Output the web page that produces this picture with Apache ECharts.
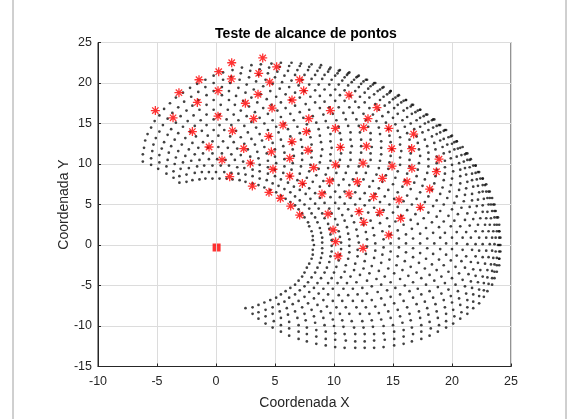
<!DOCTYPE html>
<html>
<head>
<meta charset="utf-8">
<script src="https://cdn.jsdelivr.net/npm/echarts@6/dist/echarts.min.js"></script>
<style>
  html, body { margin: 0; padding: 0; background: #fff; }
  #chart { width: 579px; height: 419px; }
</style>
</head>
<body>
<div id="chart"></div>
<script>
// Axis ticks
const xTicks = [-10, -5, 0, 5, 10, 15, 20, 25];
const yTicks = [-15, -10, -5, 0, 5, 10, 15, 20, 25];

// Reachable end-effector positions, one row per first-link angle (-4 deg ... 180 deg)
const workspaceX = [
  [2.5,3.1,3.6,4.2,4.8,5.5,6.2,7.0,7.7,8.5,9.3,10.1,10.9,11.8,12.6,13.4,14.2,15.1,15.9,16.6,17.4,18.1,18.8,19.5,20.1,20.7,21.3,21.8,22.3,22.7,23.0,23.4,23.6,23.8,24.0,24.0],
  [3.1,3.6,4.2,4.9,5.5,6.2,7.0,7.7,8.5,9.3,10.1,11.0,11.8,12.6,13.4,14.3,15.1,15.9,16.7,17.4,18.2,18.9,19.5,20.2,20.8,21.3,21.8,22.3,22.7,23.1,23.4,23.6,23.8,24.0,24.1,24.1],
  [3.6,4.2,4.8,5.5,6.2,7.0,7.7,8.5,9.3,10.1,10.9,11.8,12.6,13.4,14.2,15.1,15.9,16.6,17.4,18.1,18.8,19.5,20.1,20.7,21.3,21.8,22.3,22.7,23.0,23.4,23.6,23.8,24.0,24.0,24.1,24.0],
  [4.1,4.8,5.4,6.1,6.9,7.6,8.4,9.2,10.0,10.8,11.7,12.5,13.3,14.2,15.0,15.8,16.5,17.3,18.0,18.7,19.4,20.0,20.6,21.2,21.7,22.2,22.6,23.0,23.3,23.5,23.7,23.9,24.0,24.0,24.0,23.9],
  [4.6,5.3,6.0,6.7,7.5,8.3,9.1,9.9,10.7,11.5,12.4,13.2,14.0,14.8,15.6,16.4,17.2,17.9,18.6,19.3,19.9,20.5,21.1,21.6,22.0,22.4,22.8,23.1,23.4,23.6,23.7,23.8,23.8,23.8,23.7,23.6],
  [5.1,5.8,6.5,7.3,8.1,8.9,9.7,10.5,11.3,12.2,13.0,13.8,14.6,15.4,16.2,17.0,17.7,18.4,19.1,19.7,20.3,20.9,21.4,21.8,22.2,22.6,22.9,23.2,23.4,23.5,23.6,23.6,23.6,23.5,23.4,23.2],
  [5.5,6.2,7.0,7.8,8.6,9.4,10.2,11.0,11.9,12.7,13.5,14.3,15.1,15.9,16.7,17.4,18.1,18.8,19.4,20.0,20.6,21.1,21.6,22.0,22.3,22.6,22.9,23.1,23.2,23.3,23.4,23.3,23.2,23.1,22.9,22.6],
  [5.9,6.7,7.5,8.3,9.1,9.9,10.7,11.6,12.4,13.2,14.0,14.8,15.6,16.4,17.1,17.8,18.5,19.1,19.7,20.3,20.8,21.2,21.7,22.0,22.3,22.6,22.8,22.9,23.0,23.1,23.0,22.9,22.8,22.6,22.3,22.0],
  [6.3,7.1,7.9,8.7,9.5,10.4,11.2,12.0,12.8,13.7,14.5,15.2,16.0,16.7,17.4,18.1,18.7,19.3,19.9,20.4,20.9,21.3,21.6,22.0,22.2,22.4,22.6,22.6,22.7,22.6,22.6,22.4,22.2,22.0,21.6,21.3],
  [6.7,7.5,8.3,9.1,9.9,10.8,11.6,12.4,13.2,14.0,14.8,15.6,16.3,17.0,17.7,18.3,18.9,19.5,20.0,20.4,20.9,21.2,21.5,21.8,22.0,22.1,22.2,22.3,22.2,22.1,22.0,21.8,21.5,21.2,20.9,20.4],
  [7.0,7.8,8.6,9.5,10.3,11.1,11.9,12.8,13.6,14.3,15.1,15.8,16.5,17.2,17.8,18.4,19.0,19.5,20.0,20.4,20.7,21.1,21.3,21.5,21.7,21.7,21.8,21.7,21.7,21.5,21.3,21.1,20.7,20.4,20.0,19.5],
  [7.3,8.1,8.9,9.8,10.6,11.4,12.2,13.0,13.8,14.6,15.3,16.0,16.7,17.3,17.9,18.5,19.0,19.4,19.9,20.2,20.5,20.8,21.0,21.1,21.2,21.3,21.2,21.1,21.0,20.8,20.5,20.2,19.9,19.4,19.0,18.5],
  [7.5,8.4,9.2,10.0,10.9,11.7,12.5,13.2,14.0,14.7,15.4,16.1,16.7,17.3,17.9,18.4,18.9,19.3,19.7,20.0,20.2,20.4,20.6,20.7,20.7,20.7,20.6,20.4,20.2,20.0,19.7,19.3,18.9,18.4,17.9,17.3],
  [7.7,8.6,9.4,10.2,11.0,11.8,12.6,13.4,14.1,14.8,15.5,16.1,16.7,17.3,17.8,18.3,18.7,19.0,19.3,19.6,19.8,19.9,20.0,20.1,20.0,19.9,19.8,19.6,19.3,19.0,18.7,18.3,17.8,17.3,16.7,16.1],
  [7.9,8.8,9.6,10.4,11.2,12.0,12.7,13.5,14.2,14.8,15.5,16.1,16.6,17.1,17.6,18.0,18.4,18.7,19.0,19.2,19.3,19.4,19.4,19.4,19.3,19.2,19.0,18.7,18.4,18.0,17.6,17.1,16.6,16.1,15.5,14.8],
  [8.1,8.9,9.7,10.5,11.3,12.0,12.8,13.5,14.2,14.8,15.4,15.9,16.5,16.9,17.3,17.7,18.0,18.3,18.5,18.6,18.7,18.7,18.7,18.6,18.5,18.3,18.0,17.7,17.3,16.9,16.5,15.9,15.4,14.8,14.2,13.5],
  [8.2,9.0,9.8,10.6,11.3,12.1,12.8,13.4,14.1,14.7,15.2,15.7,16.2,16.6,17.0,17.3,17.5,17.7,17.9,18.0,18.0,18.0,17.9,17.7,17.5,17.3,17.0,16.6,16.2,15.7,15.2,14.7,14.1,13.4,12.8,12.1],
  [8.2,9.0,9.8,10.6,11.3,12.0,12.7,13.3,13.9,14.5,15.0,15.4,15.9,16.2,16.5,16.8,17.0,17.1,17.2,17.3,17.2,17.1,17.0,16.8,16.5,16.2,15.9,15.4,15.0,14.5,13.9,13.3,12.7,12.0,11.3],
  [8.3,9.0,9.8,10.5,11.2,11.9,12.5,13.1,13.7,14.2,14.7,15.1,15.4,15.8,16.0,16.2,16.4,16.4,16.5,16.4,16.4,16.2,16.0,15.8,15.4,15.1,14.7,14.2,13.7,13.1,12.5,11.9,11.2,10.5],
  [8.2,9.0,9.7,10.4,11.1,11.7,12.3,12.9,13.4,13.9,14.3,14.6,15.0,15.2,15.4,15.6,15.6,15.7,15.6,15.6,15.4,15.2,15.0,14.6,14.3,13.9,13.4,12.9,12.3,11.7,11.1,10.4,9.7],
  [8.2,8.9,9.6,10.3,10.9,11.5,12.1,12.6,13.0,13.5,13.8,14.1,14.4,14.6,14.7,14.8,14.9,14.8,14.7,14.6,14.4,14.1,13.8,13.5,13.0,12.6,12.1,11.5,10.9,10.3,9.6,8.9],
  [8.1,8.8,9.5,10.1,10.7,11.2,11.8,12.2,12.6,13.0,13.3,13.6,13.8,13.9,14.0,14.0,14.0,13.9,13.8,13.6,13.3,13.0,12.6,12.2,11.8,11.2,10.7,10.1,9.5,8.8,8.1],
  [7.9,8.6,9.2,9.8,10.4,10.9,11.4,11.8,12.1,12.5,12.7,12.9,13.1,13.1,13.2,13.1,13.1,12.9,12.7,12.5,12.1,11.8,11.4,10.9,10.4,9.8,9.2,8.6,7.9,7.2],
  [7.8,8.4,9.0,9.6,10.1,10.5,10.9,11.3,11.6,11.9,12.1,12.2,12.3,12.3,12.3,12.2,12.1,11.9,11.6,11.3,10.9,10.5,10.1,9.6,9.0,8.4,7.8,7.1,6.4],
  [7.5,8.1,8.7,9.2,9.7,10.1,10.4,10.8,11.0,11.2,11.4,11.4,11.5,11.4,11.4,11.2,11.0,10.8,10.4,10.1,9.7,9.2,8.7,8.1,7.5,6.9,6.2,5.5],
  [7.3,7.9,8.4,8.8,9.2,9.6,9.9,10.2,10.4,10.5,10.6,10.6,10.6,10.5,10.4,10.2,9.9,9.6,9.2,8.8,8.4,7.9,7.3,6.7,6.1,5.4,4.7],
  [7.0,7.5,8.0,8.4,8.8,9.1,9.3,9.5,9.7,9.7,9.8,9.7,9.7,9.5,9.3,9.1,8.8,8.4,8.0,7.5,7.0,6.4,5.8,5.2,4.5,3.8],
  [6.7,7.1,7.6,7.9,8.2,8.5,8.7,8.8,8.9,9.0,8.9,8.8,8.7,8.5,8.2,7.9,7.6,7.1,6.7,6.2,5.6,5.0,4.4,3.7,3.0],
  [6.3,6.7,7.1,7.4,7.7,7.9,8.0,8.1,8.1,8.1,8.0,7.9,7.7,7.4,7.1,6.7,6.3,5.9,5.4,4.8,4.2,3.6,2.9,2.2],
  [5.9,6.3,6.6,6.9,7.1,7.2,7.3,7.3,7.3,7.2,7.1,6.9,6.6,6.3,5.9,5.5,5.1,4.6,4.0,3.4,2.8,2.1,1.4],
  [5.5,5.8,6.1,6.3,6.4,6.5,6.6,6.5,6.4,6.3,6.1,5.8,5.5,5.2,4.7,4.3,3.8,3.2,2.6,2.0,1.3,0.6],
  [5.1,5.3,5.5,5.7,5.8,5.8,5.8,5.7,5.5,5.3,5.1,4.8,4.4,4.0,3.5,3.0,2.5,1.9,1.2,0.6,-0.2],
  [4.6,4.8,5.0,5.0,5.1,5.0,5.0,4.8,4.6,4.4,4.1,3.7,3.3,2.8,2.3,1.7,1.1,0.5,-0.2,-0.9],
  [4.1,4.3,4.4,4.4,4.4,4.3,4.1,3.9,3.7,3.4,3.0,2.6,2.1,1.6,1.1,0.5,-0.2,-0.9,-1.6],
  [3.6,3.7,3.7,3.7,3.6,3.5,3.3,3.0,2.7,2.4,1.9,1.5,1.0,0.4,-0.2,-0.8,-1.5,-2.2],
  [3.1,3.1,3.1,3.0,2.9,2.7,2.4,2.1,1.7,1.3,0.9,0.3,-0.2,-0.8,-1.5,-2.1,-2.8],
  [2.5,2.5,2.4,2.3,2.1,1.8,1.5,1.2,0.7,0.3,-0.2,-0.8,-1.4,-2.0,-2.7,-3.4],
  [2.0,1.9,1.8,1.6,1.3,1.0,0.6,0.2,-0.2,-0.8,-1.3,-1.9,-2.5,-3.2,-3.9],
  [1.4,1.3,1.1,0.8,0.5,0.2,-0.3,-0.7,-1.2,-1.8,-2.4,-3.0,-3.7,-4.4],
  [0.9,0.7,0.4,0.1,-0.3,-0.7,-1.1,-1.7,-2.2,-2.8,-3.4,-4.1,-4.8],
  [0.3,0.0,-0.3,-0.6,-1.1,-1.5,-2.0,-2.6,-3.2,-3.8,-4.5,-5.2],
  [-0.3,-0.6,-1.0,-1.4,-1.8,-2.3,-2.9,-3.5,-4.1,-4.8,-5.5],
  [-0.9,-1.2,-1.6,-2.1,-2.6,-3.2,-3.8,-4.4,-5.1,-5.8],
  [-1.4,-1.8,-2.3,-2.8,-3.4,-4.0,-4.6,-5.3,-6.0],
  [-2.0,-2.5,-3.0,-3.5,-4.1,-4.8,-5.4,-6.1],
  [-2.5,-3.1,-3.6,-4.2,-4.8,-5.5,-6.2],
  [-3.1,-3.6,-4.2,-4.9,-5.5,-6.2]
];
const workspaceY = [
  [-7.8,-8.5,-9.1,-9.7,-10.2,-10.7,-11.2,-11.6,-11.9,-12.2,-12.4,-12.6,-12.7,-12.7,-12.7,-12.7,-12.6,-12.4,-12.2,-11.9,-11.6,-11.2,-10.7,-10.2,-9.7,-9.1,-8.5,-7.8,-7.2,-6.4,-5.7,-4.9,-4.1,-3.3,-2.5,-1.7],
  [-7.7,-8.3,-8.8,-9.4,-9.9,-10.3,-10.7,-11.0,-11.3,-11.6,-11.7,-11.8,-11.9,-11.9,-11.8,-11.7,-11.6,-11.3,-11.0,-10.7,-10.3,-9.9,-9.4,-8.8,-8.3,-7.7,-7.0,-6.3,-5.6,-4.8,-4.1,-3.3,-2.5,-1.7,-0.8,0.0],
  [-7.4,-8.0,-8.5,-9.0,-9.5,-9.9,-10.2,-10.5,-10.7,-10.9,-11.0,-11.0,-11.0,-11.0,-10.9,-10.7,-10.5,-10.2,-9.9,-9.5,-9.0,-8.5,-8.0,-7.4,-6.8,-6.1,-5.5,-4.7,-4.0,-3.2,-2.4,-1.6,-0.8,0.0,0.9,1.7],
  [-7.1,-7.7,-8.2,-8.6,-9.0,-9.3,-9.6,-9.9,-10.0,-10.1,-10.2,-10.2,-10.1,-10.0,-9.9,-9.6,-9.3,-9.0,-8.6,-8.2,-7.7,-7.1,-6.6,-6.0,-5.3,-4.6,-3.9,-3.1,-2.4,-1.6,-0.8,0.0,0.9,1.7,2.5,3.4],
  [-6.8,-7.3,-7.8,-8.2,-8.5,-8.8,-9.0,-9.2,-9.3,-9.4,-9.4,-9.3,-9.2,-9.0,-8.8,-8.5,-8.2,-7.8,-7.3,-6.8,-6.3,-5.7,-5.1,-4.5,-3.8,-3.1,-2.3,-1.5,-0.7,0.1,0.9,1.7,2.5,3.4,4.2,5.0],
  [-6.5,-7.0,-7.3,-7.7,-8.0,-8.2,-8.4,-8.5,-8.5,-8.5,-8.5,-8.4,-8.2,-8.0,-7.7,-7.3,-7.0,-6.5,-6.0,-5.5,-4.9,-4.3,-3.6,-3.0,-2.2,-1.5,-0.7,0.1,0.9,1.7,2.5,3.4,4.2,5.0,5.8,6.6],
  [-6.1,-6.5,-6.9,-7.2,-7.4,-7.6,-7.7,-7.7,-7.7,-7.7,-7.6,-7.4,-7.2,-6.9,-6.5,-6.1,-5.7,-5.2,-4.7,-4.1,-3.5,-2.8,-2.1,-1.4,-0.7,0.1,0.9,1.7,2.5,3.3,4.2,5.0,5.8,6.6,7.5,8.2],
  [-5.7,-6.1,-6.4,-6.6,-6.8,-6.9,-6.9,-6.9,-6.9,-6.8,-6.6,-6.4,-6.1,-5.7,-5.4,-4.9,-4.4,-3.9,-3.3,-2.7,-2.0,-1.4,-0.6,0.1,0.9,1.7,2.5,3.3,4.1,5.0,5.8,6.6,7.4,8.2,9.0,9.8],
  [-5.3,-5.6,-5.8,-6.0,-6.1,-6.2,-6.2,-6.1,-6.0,-5.8,-5.6,-5.3,-5.0,-4.6,-4.1,-3.7,-3.1,-2.5,-1.9,-1.3,-0.6,0.1,0.9,1.7,2.5,3.3,4.1,4.9,5.7,6.6,7.4,8.2,9.0,9.8,10.6,11.3],
  [-4.9,-5.1,-5.3,-5.4,-5.4,-5.4,-5.4,-5.3,-5.1,-4.9,-4.6,-4.2,-3.8,-3.4,-2.9,-2.4,-1.8,-1.2,-0.5,0.2,0.9,1.6,2.4,3.2,4.0,4.8,5.6,6.5,7.3,8.1,8.9,9.8,10.5,11.3,12.1,12.8],
  [-4.4,-4.6,-4.7,-4.7,-4.7,-4.7,-4.6,-4.4,-4.2,-3.9,-3.5,-3.1,-2.7,-2.2,-1.7,-1.1,-0.5,0.2,0.9,1.6,2.3,3.1,3.9,4.7,5.5,6.3,7.2,8.0,8.8,9.6,10.5,11.2,12.0,12.8,13.5,14.2],
  [-3.9,-4.0,-4.1,-4.1,-4.0,-3.9,-3.7,-3.5,-3.2,-2.9,-2.5,-2.0,-1.5,-1.0,-0.4,0.2,0.9,1.5,2.3,3.0,3.8,4.6,5.4,6.2,7.0,7.8,8.7,9.5,10.3,11.1,11.9,12.7,13.4,14.2,14.8,15.5],
  [-3.4,-3.4,-3.4,-3.4,-3.3,-3.1,-2.9,-2.6,-2.2,-1.8,-1.4,-0.9,-0.4,0.2,0.8,1.5,2.2,2.9,3.6,4.4,5.2,6.0,6.8,7.6,8.5,9.3,10.1,10.9,11.8,12.5,13.3,14.1,14.8,15.5,16.1,16.7],
  [-2.8,-2.8,-2.8,-2.7,-2.5,-2.3,-2.0,-1.6,-1.2,-0.8,-0.3,0.2,0.8,1.4,2.1,2.8,3.5,4.2,5.0,5.8,6.6,7.4,8.2,9.1,9.9,10.7,11.5,12.4,13.1,13.9,14.7,15.4,16.1,16.7,17.3,17.9],
  [-2.3,-2.2,-2.1,-1.9,-1.7,-1.4,-1.1,-0.7,-0.3,0.2,0.8,1.3,2.0,2.6,3.3,4.0,4.8,5.5,6.3,7.1,8.0,8.8,9.6,10.4,11.3,12.1,12.9,13.7,14.5,15.2,15.9,16.6,17.3,17.9,18.5,19.0],
  [-1.7,-1.6,-1.4,-1.2,-0.9,-0.6,-0.2,0.2,0.7,1.3,1.8,2.5,3.1,3.8,4.5,5.3,6.0,6.8,7.6,8.5,9.3,10.1,10.9,11.8,12.6,13.4,14.2,15.0,15.7,16.4,17.1,17.8,18.4,19.0,19.5,20.0],
  [-1.2,-1.0,-0.8,-0.5,-0.1,0.3,0.7,1.2,1.7,2.3,2.9,3.6,4.3,5.0,5.7,6.5,7.3,8.1,8.9,9.7,10.6,11.4,12.2,13.0,13.9,14.6,15.4,16.2,16.9,17.6,18.2,18.8,19.4,20.0,20.4,20.9],
  [-0.6,-0.4,-0.1,0.3,0.7,1.1,1.6,2.1,2.7,3.3,4.0,4.7,5.4,6.1,6.9,7.7,8.5,9.3,10.1,11.0,11.8,12.6,13.4,14.3,15.0,15.8,16.6,17.3,18.0,18.6,19.2,19.8,20.4,20.8,21.3],
  [0.0,0.3,0.6,1.0,1.4,1.9,2.5,3.0,3.7,4.3,5.0,5.7,6.5,7.2,8.0,8.8,9.7,10.5,11.3,12.1,13.0,13.8,14.6,15.4,16.2,16.9,17.6,18.3,19.0,19.6,20.2,20.7,21.2,21.6],
  [0.6,0.9,1.3,1.7,2.2,2.8,3.3,4.0,4.6,5.3,6.0,6.8,7.5,8.3,9.1,9.9,10.8,11.6,12.4,13.3,14.1,14.9,15.7,16.4,17.2,17.9,18.6,19.3,19.9,20.4,21.0,21.5,21.9],
  [1.1,1.5,2.0,2.5,3.0,3.6,4.2,4.9,5.5,6.3,7.0,7.8,8.6,9.4,10.2,11.0,11.8,12.7,13.5,14.3,15.1,15.9,16.7,17.4,18.2,18.8,19.5,20.1,20.7,21.2,21.7,22.2],
  [1.7,2.1,2.6,3.2,3.7,4.4,5.0,5.7,6.4,7.2,7.9,8.7,9.5,10.4,11.2,12.0,12.8,13.7,14.5,15.3,16.1,16.9,17.6,18.3,19.0,19.7,20.3,20.9,21.4,21.9,22.3],
  [2.3,2.8,3.3,3.9,4.5,5.1,5.8,6.5,7.3,8.1,8.9,9.7,10.5,11.3,12.1,13.0,13.8,14.6,15.4,16.2,17.0,17.7,18.4,19.1,19.8,20.4,21.0,21.5,22.0,22.4],
  [2.8,3.4,3.9,4.5,5.2,5.9,6.6,7.4,8.1,8.9,9.7,10.5,11.4,12.2,13.0,13.9,14.7,15.5,16.3,17.0,17.8,18.5,19.2,19.8,20.5,21.0,21.6,22.1,22.5],
  [3.4,3.9,4.5,5.2,5.9,6.6,7.4,8.1,8.9,9.7,10.5,11.4,12.2,13.0,13.9,14.7,15.5,16.3,17.0,17.8,18.5,19.2,19.8,20.5,21.0,21.6,22.1,22.5],
  [3.9,4.5,5.1,5.8,6.5,7.3,8.1,8.9,9.7,10.5,11.3,12.1,13.0,13.8,14.6,15.4,16.2,17.0,17.7,18.4,19.1,19.8,20.4,21.0,21.5,22.0,22.4],
  [4.4,5.0,5.7,6.4,7.2,7.9,8.7,9.5,10.4,11.2,12.0,12.8,13.7,14.5,15.3,16.1,16.9,17.6,18.3,19.0,19.7,20.3,20.9,21.4,21.9,22.3],
  [4.9,5.5,6.3,7.0,7.8,8.6,9.4,10.2,11.0,11.8,12.7,13.5,14.3,15.1,15.9,16.7,17.4,18.2,18.8,19.5,20.1,20.7,21.2,21.7,22.2],
  [5.3,6.0,6.8,7.5,8.3,9.1,9.9,10.8,11.6,12.4,13.3,14.1,14.9,15.7,16.4,17.2,17.9,18.6,19.3,19.9,20.4,21.0,21.5,21.9],
  [5.7,6.5,7.2,8.0,8.8,9.7,10.5,11.3,12.1,13.0,13.8,14.6,15.4,16.2,16.9,17.6,18.3,19.0,19.6,20.2,20.7,21.2,21.6],
  [6.1,6.9,7.7,8.5,9.3,10.1,11.0,11.8,12.6,13.4,14.3,15.0,15.8,16.6,17.3,18.0,18.6,19.2,19.8,20.4,20.8,21.3],
  [6.5,7.3,8.1,8.9,9.7,10.6,11.4,12.2,13.0,13.9,14.6,15.4,16.2,16.9,17.6,18.2,18.8,19.4,20.0,20.4,20.9],
  [6.8,7.6,8.5,9.3,10.1,10.9,11.8,12.6,13.4,14.2,15.0,15.7,16.4,17.1,17.8,18.4,19.0,19.5,20.0,20.4],
  [7.1,8.0,8.8,9.6,10.4,11.3,12.1,12.9,13.7,14.5,15.2,15.9,16.6,17.3,17.9,18.5,19.0,19.5,19.9],
  [7.4,8.2,9.1,9.9,10.7,11.5,12.4,13.1,13.9,14.7,15.4,16.1,16.7,17.3,17.9,18.5,18.9,19.4],
  [7.6,8.5,9.3,10.1,10.9,11.8,12.5,13.3,14.1,14.8,15.5,16.1,16.7,17.3,17.9,18.3,18.8],
  [7.8,8.7,9.5,10.3,11.1,11.9,12.7,13.4,14.2,14.8,15.5,16.1,16.7,17.2,17.7,18.2],
  [8.0,8.8,9.6,10.5,11.2,12.0,12.8,13.5,14.2,14.8,15.4,16.0,16.6,17.0,17.5],
  [8.1,8.9,9.8,10.5,11.3,12.1,12.8,13.5,14.1,14.7,15.3,15.9,16.3,16.8],
  [8.2,9.0,9.8,10.6,11.3,12.0,12.7,13.4,14.0,14.6,15.1,15.6,16.0],
  [8.2,9.0,9.8,10.6,11.3,12.0,12.6,13.2,13.8,14.3,14.8,15.3],
  [8.2,9.0,9.8,10.5,11.2,11.8,12.4,13.0,13.6,14.0,14.5],
  [8.2,9.0,9.7,10.4,11.0,11.6,12.2,12.7,13.2,13.7],
  [8.1,8.9,9.5,10.2,10.8,11.4,11.9,12.4,12.9],
  [8.0,8.7,9.4,10.0,10.5,11.1,11.6,12.0],
  [7.8,8.5,9.1,9.7,10.2,10.7,11.2],
  [7.7,8.3,8.8,9.4,9.9,10.3]
];

// Target points tested (red asterisks)
const targetX = [3.96, 1.33, 5.14, 0.23, 3.62, 1.3, -1.44, 7.09, 4.55, 0.17, 7.43, -3.14, 3.56, 11.27, 6.44, -1.58, 2.49, 4.75, 13.64, -5.14, 9.69, 0.17, -3.64, 3.19, 7.86, 12.88, 5.68, 10.12, 12.52, 14.64, 1.39, -2.0, 7.66, 16.75, 4.47, 6.44, -0.59, 2.35, 10.54, 12.75, 14.89, 16.58, 4.69, 7.8, 6.25, 18.9, 0.51, 2.91, 12.46, 10.14, 14.92, 8.28, 16.6, 4.83, 18.68, 1.16, 6.25, 14.1, 7.32, 9.64, 11.98, 16.19, 3.08, 18.11, 4.49, 8.98, 11.27, 13.36, 5.46, 15.51, 6.33, 17.32, 7.09, 9.49, 12.12, 13.87, 15.65, 12.52, 9.92, 14.64, 10.14, 12.46, 10.34];
const targetY = [23.09, 22.5, 22.0, 21.4, 21.2, 20.5, 20.4, 20.4, 20.1, 19.05, 19.05, 18.8, 18.6, 18.5, 17.9, 17.6, 17.5, 16.9, 16.95, 16.6, 16.6, 15.9, 15.7, 15.6, 15.6, 15.6, 14.8, 14.4, 14.5, 14.4, 14.1, 14.0, 14.0, 13.7, 13.4, 12.75, 12.1, 11.9, 12.06, 12.2, 11.9, 11.9, 11.5, 11.7, 10.7, 10.6, 10.5, 10.1, 10.1, 9.9, 9.75, 9.55, 9.47, 9.35, 9.05, 8.43, 8.5, 8.23, 7.6, 7.9, 7.81, 7.81, 7.28, 6.9, 6.5, 6.3, 6.3, 5.96, 5.77, 5.56, 4.81, 4.65, 3.7, 3.83, 4.11, 4.04, 3.3, 2.8, 1.85, 1.23, 0.41, -0.41, -1.36];

// Robot base
const baseX = [0.05];
const baseY = [-0.3];

const pairs = (xs, ys) => xs.slice(0, Math.min(xs.length, ys.length)).map((x, i) => [x, ys[i]]);
const workspacePoints = [];
workspaceX.forEach((row, r) => { workspacePoints.push(...pairs(row, workspaceY[r])); });

const asterisk = 'path://M5,0L5,10M0,5L10,5M1.46,1.46L8.54,8.54M1.46,8.54L8.54,1.46';
const twoBars = 'path://M0,0L4,0L4,9L0,9ZM5,0L9,0L9,9L5,9Z';

const font = '"Liberation Sans", Arial, Helvetica, sans-serif';
const chart = echarts.init(document.getElementById('chart'));
chart.setOption({
  animation: false,
  backgroundColor: '#ffffff',
  title: {
    text: 'Teste de alcance de pontos',
    left: 301, top: 22, textAlign: 'center',
    textStyle: { fontFamily: font, fontSize: 14, fontWeight: 'bold', color: '#000' }
  },
  graphic: [{
    type: 'rect', shape: { x: 13, y: -2, width: 553, height: 423 },
    style: { fill: 'none', stroke: '#a0a0a0', lineWidth: 1 }, silent: true
  }],
  grid: { left: 98, top: 42.5, width: 413, height: 324, show: true, borderColor: '#262626', borderWidth: 1, backgroundColor: 'transparent' },
  xAxis: {
    type: 'value', min: xTicks[0], max: xTicks[xTicks.length - 1], interval: 5,
    name: 'Coordenada X', nameLocation: 'middle', nameGap: 30, nameMoveOverlap: false,
    nameTextStyle: { fontFamily: font, fontSize: 14, color: '#262626' },
    axisLine: { onZero: false, lineStyle: { color: '#262626' } },
    axisTick: { inside: true, length: 3, lineStyle: { color: '#262626' } },
    axisLabel: { fontFamily: font, fontSize: 12.5, color: '#262626', margin: 9 },
    splitLine: { lineStyle: { color: '#dcdcdc' } }
  },
  yAxis: {
    type: 'value', min: yTicks[0], max: yTicks[yTicks.length - 1], interval: 5,
    name: 'Coordenada Y', nameLocation: 'middle', nameGap: 27, nameMoveOverlap: false,
    nameTextStyle: { fontFamily: font, fontSize: 14, color: '#262626' },
    axisLine: { show: true, onZero: false, lineStyle: { color: '#262626' } },
    axisTick: { show: true, inside: true, length: 3, lineStyle: { color: '#262626' } },
    axisLabel: { fontFamily: font, fontSize: 12.5, color: '#262626', margin: 6 },
    splitLine: { lineStyle: { color: '#dcdcdc' } }
  },
  series: [
    {
      type: 'scatter', data: workspacePoints, symbol: 'circle', symbolSize: 2.7,
      itemStyle: { color: '#111111' }, z: 2
    },
    {
      type: 'scatter', data: pairs(targetX, targetY), symbol: asterisk, symbolSize: 9,
      itemStyle: { color: 'rgba(0,0,0,0)', borderColor: '#ff0000', borderWidth: 1.3 }, z: 3
    },
    {
      type: 'scatter', data: pairs(baseX, baseY), symbol: twoBars, symbolSize: [8, 8],
      itemStyle: { color: '#ff0000' }, z: 3
    }
  ]
});
</script>
</body>
</html>
